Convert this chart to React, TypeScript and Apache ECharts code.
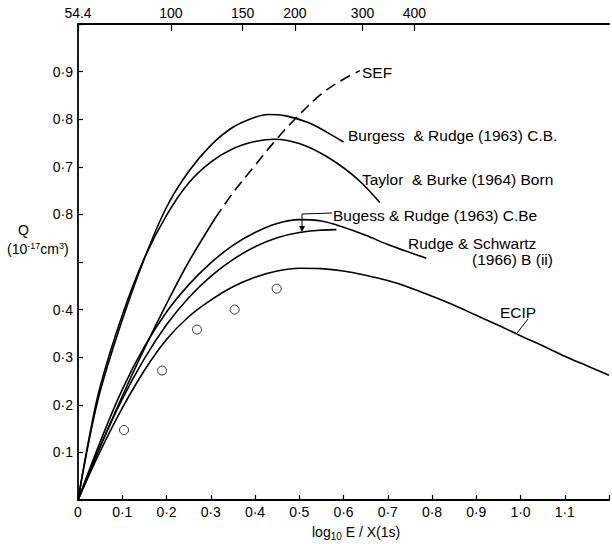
import React, { useEffect, useRef } from "react";
import * as echarts from "echarts";

// ---- tick labels ----
const xTickLabels = ["0", "0·1", "0·2", "0·3", "0·4", "0·5", "0·6", "0·7", "0·8", "0·9", "1·0", "1·1", ""];
const yTickLabels = ["", "0·1", "0·2", "0·3", "0·4", "", "0·8", "0·7", "0·8", "0·9", ""];
const topTickPositions = [0, 0.21, 0.372, 0.49, 0.643, 0.76];
const topTickLabels = ["54.4", "100", "150", "200", "300", "400"];

// ---- curves (x = log10 E/X(1s), y = Q) ----
const burgessCB: number[][] = [
  [0, 0], [0.025, 0.125], [0.05, 0.228], [0.1, 0.378], [0.15, 0.507], [0.2, 0.615],
  [0.25, 0.69], [0.3, 0.745], [0.35, 0.783], [0.4, 0.804], [0.43, 0.81], [0.47, 0.807],
  [0.52, 0.793], [0.56, 0.774], [0.6, 0.752],
];
const taylorBorn: number[][] = [
  [0, 0], [0.025, 0.13], [0.05, 0.238], [0.1, 0.388], [0.15, 0.508], [0.2, 0.598],
  [0.25, 0.666], [0.3, 0.71], [0.35, 0.738], [0.4, 0.753], [0.445, 0.758], [0.5, 0.749],
  [0.55, 0.728], [0.6, 0.698], [0.64, 0.667], [0.682, 0.625],
];
const sefSolid: number[][] = [
  [0, 0], [0.05, 0.112], [0.1, 0.218], [0.15, 0.318], [0.2, 0.412], [0.25, 0.5], [0.31, 0.592],
];
const sefDashed: number[][] = [
  [0.31, 0.592], [0.35, 0.645], [0.4, 0.703], [0.445, 0.754], [0.49, 0.8], [0.55, 0.853],
  [0.6, 0.884], [0.637, 0.902],
];
const rudgeSchwartz: number[][] = [
  [0, 0], [0.05, 0.122], [0.1, 0.232], [0.15, 0.322], [0.2, 0.395], [0.25, 0.452],
  [0.3, 0.498], [0.35, 0.535], [0.4, 0.562], [0.45, 0.581], [0.5, 0.589], [0.55, 0.586],
  [0.6, 0.573], [0.65, 0.556], [0.7, 0.537], [0.75, 0.52], [0.787, 0.508],
];
const burgessCBe: number[][] = [
  [0, 0], [0.05, 0.112], [0.1, 0.212], [0.15, 0.297], [0.2, 0.368], [0.25, 0.425],
  [0.3, 0.47], [0.35, 0.505], [0.4, 0.532], [0.45, 0.551], [0.5, 0.562], [0.55, 0.567],
  [0.584, 0.568],
];
const ecip: number[][] = [
  [0, 0], [0.05, 0.102], [0.1, 0.193], [0.15, 0.272], [0.2, 0.337], [0.25, 0.385],
  [0.3, 0.42], [0.35, 0.448], [0.4, 0.468], [0.45, 0.481], [0.5, 0.487], [0.55, 0.486],
  [0.6, 0.481], [0.65, 0.472], [0.7, 0.461], [0.75, 0.446], [0.8, 0.428], [0.85, 0.409],
  [0.9, 0.388], [0.95, 0.367], [1.0, 0.345], [1.05, 0.324], [1.1, 0.302], [1.15, 0.282],
  [1.2, 0.262],
];
const experiment: number[][] = [
  [0.104, 0.147], [0.19, 0.272], [0.269, 0.358], [0.354, 0.4], [0.449, 0.444],
];

const FONT = '"Liberation Sans", Arial, sans-serif';

function lineSeries(name: string, data: number[][], dashed = false) {
  return {
    name,
    type: "line",
    data,
    smooth: 0.35,
    showSymbol: false,
    symbol: "none",
    lineStyle: { color: "#000", width: 1.6, type: dashed ? [11, 6] : "solid" },
    z: 3,
  };
}

function label(text: string, x: number, y: number, size = 15.5) {
  return {
    type: "text",
    x,
    y,
    style: {
      text,
      fill: "#000",
      fontSize: size,
      fontFamily: FONT,
      textAlign: "left",
      textVerticalAlign: "middle",
      align: "left",
      verticalAlign: "middle",
    },
    z: 10,
  };
}

export default function App() {
  const ref = useRef<HTMLDivElement>(null);
  useEffect(() => {
    document.body.style.margin = "0";
    const chart = echarts.init(ref.current!, null, { renderer: "svg" });
    const findTop = (v: number) => {
      const i = topTickPositions.findIndex((p) => Math.abs(p - v) < 1e-6);
      return i >= 0 ? topTickLabels[i] : "";
    };
    chart.setOption({
      animation: false,
      backgroundColor: "#fff",
      grid: { left: 78, top: 24, right: 2, bottom: 44, show: false },
      xAxis: [
        {
          type: "value",
          position: "bottom",
          min: 0,
          max: 1.2,
          interval: 0.1,
          axisLine: { lineStyle: { color: "#000", width: 1.8 } },
          axisTick: { inside: true, length: 5, lineStyle: { color: "#000", width: 1.2 } },
          axisLabel: {
            margin: 5,
            color: "#000",
            fontSize: 14,
            fontFamily: FONT,
            formatter: (v: number) => xTickLabels[Math.round(v * 10)] ?? "",
          },
          splitLine: { show: false },
        },
        {
          type: "value",
          position: "top",
          min: 0,
          max: 1.2,
          axisLine: { onZero: false, lineStyle: { color: "#000", width: 1.8 } },
          axisTick: {
            inside: true,
            length: 7,
            customValues: topTickPositions,
            lineStyle: { color: "#000", width: 1.2 },
          },
          axisLabel: {
            margin: 4,
            color: "#000",
            fontSize: 14,
            fontFamily: FONT,
            customValues: topTickPositions,
            formatter: (v: number) => findTop(v),
          },
          splitLine: { show: false },
        },
      ],
      yAxis: {
        type: "value",
        min: 0,
        max: 1.0,
        interval: 0.1,
        axisLine: { show: true, lineStyle: { color: "#000", width: 1.8 } },
        axisTick: { show: true, inside: true, length: 5, lineStyle: { color: "#000", width: 1.2 } },
        axisLabel: {
          margin: 5,
          color: "#000",
          fontSize: 14,
          fontFamily: FONT,
          formatter: (v: number) => yTickLabels[Math.round(v * 10)] ?? "",
        },
        splitLine: { show: false },
      },
      series: [
        lineSeries("Burgess & Rudge (1963) C.B.", burgessCB),
        lineSeries("Taylor & Burke (1964) Born", taylorBorn),
        lineSeries("SEF", sefSolid),
        lineSeries("SEF (dashed)", sefDashed, true),
        lineSeries("Rudge & Schwartz (1966) B (ii)", rudgeSchwartz),
        lineSeries("Bugess & Rudge (1963) C.Be", burgessCBe),
        lineSeries("ECIP", ecip),
        {
          name: "Experiment",
          type: "scatter",
          data: experiment,
          symbol: "circle",
          symbolSize: 9,
          itemStyle: { color: "#fff", borderColor: "#000", borderWidth: 1 },
          z: 4,
        },
      ],
      graphic: [
        label("SEF", 362, 72),
        label("Burgess  & Rudge (1963) C.B.", 348, 135),
        label("Taylor  & Burke (1964) Born", 362, 179),
        label("Bugess & Rudge (1963) C.Be", 333, 215),
        label("Rudge & Schwartz", 408, 243),
        label("(1966) B (ii)", 472, 259),
        label("ECIP", 500, 312),
        label("Q", 18, 230, 14),
        {
          type: "text",
          x: 7,
          y: 249,
          style: {
            text: "(10{sup|-17}cm{sup|3})",
            fill: "#000",
            fontSize: 14,
            fontFamily: FONT,
            textVerticalAlign: "middle",
            verticalAlign: "middle",
            rich: {
              sup: { fontSize: 9, fontFamily: FONT, verticalAlign: "top", lineHeight: 16, fill: "#000" },
            },
          },
        },
        {
          type: "text",
          x: 312,
          y: 532,
          style: {
            text: "log{sub|10} E / X(1s)",
            fill: "#000",
            fontSize: 14,
            fontFamily: FONT,
            textVerticalAlign: "middle",
            verticalAlign: "middle",
            rich: {
              sub: { fontSize: 10, fontFamily: FONT, verticalAlign: "bottom", lineHeight: 19, fill: "#000" },
            },
          },
        },
        // leader for C.Be label
        { type: "line", shape: { x1: 332, y1: 213, x2: 302, y2: 214 }, style: { stroke: "#000", lineWidth: 1 } },
        { type: "line", shape: { x1: 302, y1: 214, x2: 302, y2: 227 }, style: { stroke: "#000", lineWidth: 1 } },
        {
          type: "polygon",
          shape: { points: [[299, 226], [305, 226], [302, 232]] },
          style: { fill: "#000" },
        },
        // leader for ECIP label
        { type: "line", shape: { x1: 528, y1: 319, x2: 517, y2: 333 }, style: { stroke: "#000", lineWidth: 1 } },
      ],
    });
    return () => chart.dispose();
  }, []);
  return <div ref={ref} style={{ width: 612, height: 544 }} />;
}
